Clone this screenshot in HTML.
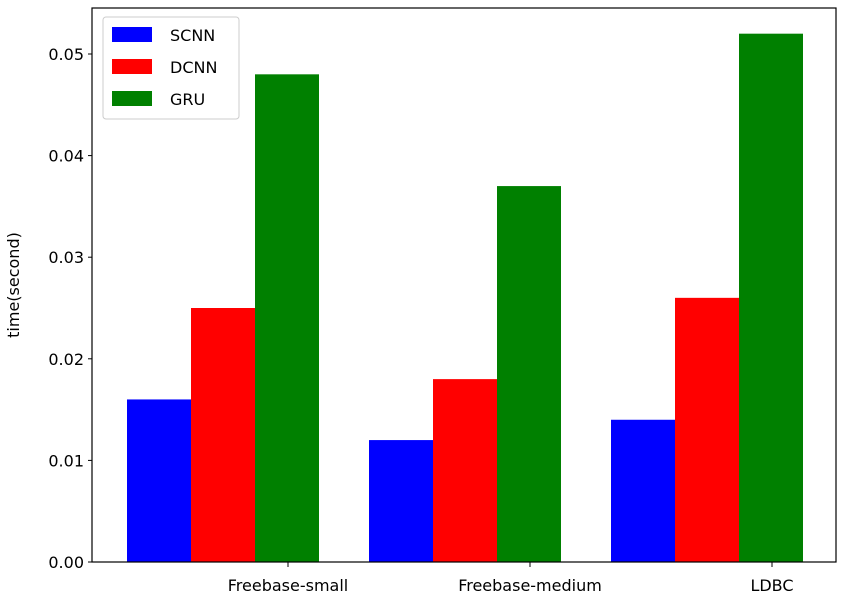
<!DOCTYPE html>
<html><head><meta charset="utf-8"><style>
body{margin:0;background:#fff;font-family:"Liberation Sans","DejaVu Sans",sans-serif;}
svg text{font-family:"DejaVu Sans","Liberation Sans",sans-serif;font-size:16px;fill:#000}
</style></head><body>
<svg id="chart" width="857" height="610" xmlns="http://www.w3.org/2000/svg">
<g id="bars"></g>
<rect x="92" y="8" width="744" height="554" fill="none" stroke="#000" stroke-width="1.2"/>
<g id="yaxis"></g>
<g id="xaxis"></g>
<text transform="translate(19,285) rotate(-90)" text-anchor="middle" font-size="15">time(second)</text>
<g>
<rect x="103" y="17" width="136" height="102" rx="3" fill="#fff" stroke="#ccc"/>
<g><rect x="112" y="27" width="40" height="15" fill="#0000ff"/><text x="170" y="41">SCNN</text></g>
<g><rect x="112" y="59" width="40" height="15" fill="#ff0000"/><text x="170" y="73">DCNN</text></g>
<g><rect x="112" y="91" width="40" height="15" fill="#008000"/><text x="170" y="105">GRU</text></g>
</g>
</svg>
<script>
const categories=["Freebase-small","Freebase-medium","LDBC"];
const scnn=[0.016,0.012,0.014];
const dcnn=[0.025,0.018,0.026];
const gru=[0.048,0.037,0.052];
const yTicks=[0,0.01,0.02,0.03,0.04,0.05];
const yTickLabels=["0.00","0.01","0.02","0.03","0.04","0.05"];
const series=[scnn,dcnn,gru];
const colors=["#0000ff","#ff0000","#008000"];
const names=["scnn","dcnn","gru"];
const NS="http://www.w3.org/2000/svg";
function yScale(v){return 562-v*10160;}
function groupX(i){return 127+i*242;}
const barW=64;
const bars=document.getElementById('bars');
series.forEach((s,si)=>{s.forEach((v,i)=>{
 const r=document.createElementNS(NS,'rect');
 
 
 const x=groupX(i)+si*barW;
 r.setAttribute('x',x);r.setAttribute('width',barW);
 r.setAttribute('y',yScale(v));r.setAttribute('height',562-yScale(v));
 r.setAttribute('fill',colors[si]);bars.appendChild(r);
});});
const ya=document.getElementById('yaxis');
yTicks.forEach((t,i)=>{
 const y=yScale(t);
 const l=document.createElementNS(NS,'line');
 
 
 l.setAttribute('x1',88);l.setAttribute('x2',92);l.setAttribute('y1',y);l.setAttribute('y2',y);l.setAttribute('stroke','#000');ya.appendChild(l);
 const tx=document.createElementNS(NS,'text');
 
 
 tx.setAttribute('x',84);tx.setAttribute('y',y+6);tx.setAttribute('text-anchor','end');tx.textContent=yTickLabels[i];ya.appendChild(tx);
});
const xa=document.getElementById('xaxis');
categories.forEach((c,i)=>{
 const x=groupX(i)+161;
 const l=document.createElementNS(NS,'line');
 
 
 l.setAttribute('x1',x);l.setAttribute('x2',x);l.setAttribute('y1',562);l.setAttribute('y2',567);l.setAttribute('stroke','#000');xa.appendChild(l);
 const tx=document.createElementNS(NS,'text');
 
 
 tx.setAttribute('x',x);tx.setAttribute('y',591);tx.setAttribute('text-anchor','middle');tx.textContent=c;xa.appendChild(tx);
});
</script>
</body></html>
